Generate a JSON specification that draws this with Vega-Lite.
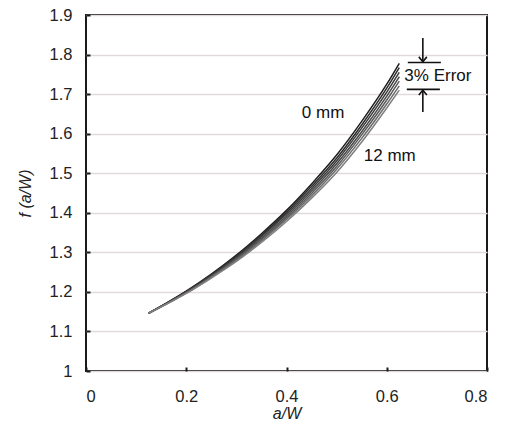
{
  "$schema": "https://vega.github.io/schema/vega-lite/v6.json",
  "width": 401,
  "height": 356,
  "autosize": "none",
  "padding": {"left": 86, "top": 15, "right": 18, "bottom": 59},
  "background": "white",
  "config": {
    "view": {"stroke": "#1a1a1a", "strokeWidth": 2},
    "font": "Liberation Sans",
    "axis": {
      "domain": false,
      "labelFont": "Liberation Sans",
      "labelFontSize": 16.5,
      "labelColor": "#222",
      "labelOverlap": false,
      "titleFont": "Liberation Sans",
      "titleFontSize": 16,
      "titleFontWeight": "normal",
      "titleFontStyle": "italic",
      "titleColor": "#222",
      "tickColor": "#1a1a1a",
      "tickWidth": 2,
      "tickSize": -4,
      "tickCount": 12,
      "gridColor": "#e2d9d9",
      "gridWidth": 1.5
    }
  },
  "datasets": {
    "curves": [
      {"s": "0 mm", "aw": 0.125, "f": 1.146}, {"s": "0 mm", "aw": 0.15, "f": 1.164}, {"s": "0 mm", "aw": 0.2, "f": 1.202}, {"s": "0 mm", "aw": 0.25, "f": 1.245}, {"s": "0 mm", "aw": 0.3, "f": 1.293}, {"s": "0 mm", "aw": 0.35, "f": 1.347}, {"s": "0 mm", "aw": 0.4, "f": 1.406}, {"s": "0 mm", "aw": 0.45, "f": 1.473}, {"s": "0 mm", "aw": 0.5, "f": 1.546}, {"s": "0 mm", "aw": 0.55, "f": 1.631}, {"s": "0 mm", "aw": 0.6, "f": 1.725}, {"s": "0 mm", "aw": 0.625, "f": 1.778},
      {"s": "2 mm", "aw": 0.125, "f": 1.146}, {"s": "2 mm", "aw": 0.15, "f": 1.164}, {"s": "2 mm", "aw": 0.2, "f": 1.201}, {"s": "2 mm", "aw": 0.25, "f": 1.243}, {"s": "2 mm", "aw": 0.3, "f": 1.290}, {"s": "2 mm", "aw": 0.35, "f": 1.343}, {"s": "2 mm", "aw": 0.4, "f": 1.401}, {"s": "2 mm", "aw": 0.45, "f": 1.467}, {"s": "2 mm", "aw": 0.5, "f": 1.538}, {"s": "2 mm", "aw": 0.55, "f": 1.622}, {"s": "2 mm", "aw": 0.6, "f": 1.715}, {"s": "2 mm", "aw": 0.625, "f": 1.767},
      {"s": "4 mm", "aw": 0.125, "f": 1.146}, {"s": "4 mm", "aw": 0.15, "f": 1.163}, {"s": "4 mm", "aw": 0.2, "f": 1.200}, {"s": "4 mm", "aw": 0.25, "f": 1.242}, {"s": "4 mm", "aw": 0.3, "f": 1.288}, {"s": "4 mm", "aw": 0.35, "f": 1.340}, {"s": "4 mm", "aw": 0.4, "f": 1.397}, {"s": "4 mm", "aw": 0.45, "f": 1.461}, {"s": "4 mm", "aw": 0.5, "f": 1.531}, {"s": "4 mm", "aw": 0.55, "f": 1.614}, {"s": "4 mm", "aw": 0.6, "f": 1.705}, {"s": "4 mm", "aw": 0.625, "f": 1.755},
      {"s": "6 mm", "aw": 0.125, "f": 1.146}, {"s": "6 mm", "aw": 0.15, "f": 1.163}, {"s": "6 mm", "aw": 0.2, "f": 1.199}, {"s": "6 mm", "aw": 0.25, "f": 1.240}, {"s": "6 mm", "aw": 0.3, "f": 1.285}, {"s": "6 mm", "aw": 0.35, "f": 1.336}, {"s": "6 mm", "aw": 0.4, "f": 1.392}, {"s": "6 mm", "aw": 0.45, "f": 1.455}, {"s": "6 mm", "aw": 0.5, "f": 1.524}, {"s": "6 mm", "aw": 0.55, "f": 1.605}, {"s": "6 mm", "aw": 0.6, "f": 1.695}, {"s": "6 mm", "aw": 0.625, "f": 1.744},
      {"s": "8 mm", "aw": 0.125, "f": 1.146}, {"s": "8 mm", "aw": 0.15, "f": 1.163}, {"s": "8 mm", "aw": 0.2, "f": 1.198}, {"s": "8 mm", "aw": 0.25, "f": 1.238}, {"s": "8 mm", "aw": 0.3, "f": 1.282}, {"s": "8 mm", "aw": 0.35, "f": 1.332}, {"s": "8 mm", "aw": 0.4, "f": 1.387}, {"s": "8 mm", "aw": 0.45, "f": 1.449}, {"s": "8 mm", "aw": 0.5, "f": 1.517}, {"s": "8 mm", "aw": 0.55, "f": 1.597}, {"s": "8 mm", "aw": 0.6, "f": 1.685}, {"s": "8 mm", "aw": 0.625, "f": 1.733},
      {"s": "10 mm", "aw": 0.125, "f": 1.146}, {"s": "10 mm", "aw": 0.15, "f": 1.162}, {"s": "10 mm", "aw": 0.2, "f": 1.197}, {"s": "10 mm", "aw": 0.25, "f": 1.237}, {"s": "10 mm", "aw": 0.3, "f": 1.280}, {"s": "10 mm", "aw": 0.35, "f": 1.329}, {"s": "10 mm", "aw": 0.4, "f": 1.383}, {"s": "10 mm", "aw": 0.45, "f": 1.443}, {"s": "10 mm", "aw": 0.5, "f": 1.510}, {"s": "10 mm", "aw": 0.55, "f": 1.588}, {"s": "10 mm", "aw": 0.6, "f": 1.675}, {"s": "10 mm", "aw": 0.625, "f": 1.721},
      {"s": "12 mm", "aw": 0.125, "f": 1.146}, {"s": "12 mm", "aw": 0.15, "f": 1.162}, {"s": "12 mm", "aw": 0.2, "f": 1.196}, {"s": "12 mm", "aw": 0.25, "f": 1.235}, {"s": "12 mm", "aw": 0.3, "f": 1.277}, {"s": "12 mm", "aw": 0.35, "f": 1.325}, {"s": "12 mm", "aw": 0.4, "f": 1.378}, {"s": "12 mm", "aw": 0.45, "f": 1.437}, {"s": "12 mm", "aw": 0.5, "f": 1.502}, {"s": "12 mm", "aw": 0.55, "f": 1.579}, {"s": "12 mm", "aw": 0.6, "f": 1.665}, {"s": "12 mm", "aw": 0.625, "f": 1.710}
    ],
    "labels": [
      {"aw": 0.473, "f": 1.652, "t": "0 mm"},
      {"aw": 0.606, "f": 1.543, "t": "12 mm"},
      {"aw": 0.702, "f": 1.746, "t": "3% Error"}
    ],
    "bars": [
      {"x1": 0.642, "x2": 0.708, "y1": 1.780, "y2": 1.780},
      {"x1": 0.640, "x2": 0.706, "y1": 1.712, "y2": 1.712},
      {"x1": 0.672, "x2": 0.672, "y1": 1.842, "y2": 1.782},
      {"x1": 0.672, "x2": 0.672, "y1": 1.710, "y2": 1.655}
    ],
    "heads": [
      {"aw": 0.672, "f": 1.782, "dir": "down"},
      {"aw": 0.672, "f": 1.710, "dir": "up"}
    ]
  },
  "layer": [
    {
      "data": {"name": "curves"},
      "mark": {"type": "line", "strokeWidth": 1.5, "interpolate": "monotone"},
      "encoding": {
        "x": {
          "field": "aw", "type": "quantitative",
          "scale": {"domain": [0, 0.8], "nice": false, "zero": false},
          "axis": {"values": [0, 0.2, 0.4, 0.6, 0.8], "format": "~g", "grid": false, "title": "a/W", "labelPadding": 21, "titlePadding": 1}
        },
        "y": {
          "field": "f", "type": "quantitative",
          "scale": {"domain": [1, 1.9], "nice": false, "zero": false},
          "axis": {"values": [1, 1.1, 1.2, 1.3, 1.4, 1.5, 1.6, 1.7, 1.8, 1.9], "format": "~g", "title": "f (a/W)", "labelPadding": 18, "titlePadding": 16}
        },
        "color": {
          "field": "s", "type": "nominal",
          "scale": {"domain": ["0 mm", "2 mm", "4 mm", "6 mm", "8 mm", "10 mm", "12 mm"], "range": ["#1e1e1e", "#2e2e2e", "#3c3c3c", "#4a4a4a", "#5a5a5a", "#6c6c6c", "#808080"]},
          "legend": null
        },
        "order": {"field": "s", "sort": "descending"}
      }
    },
    {
      "data": {"name": "labels"},
      "mark": {"type": "text", "fontSize": 17, "font": "Liberation Sans", "color": "#111", "align": "center", "baseline": "middle"},
      "encoding": {
        "x": {"field": "aw", "type": "quantitative"},
        "y": {"field": "f", "type": "quantitative"},
        "text": {"field": "t"}
      }
    },
    {
      "data": {"name": "bars"},
      "mark": {"type": "rule", "color": "#111", "strokeWidth": 1.6},
      "encoding": {
        "x": {"field": "x1", "type": "quantitative"},
        "x2": {"field": "x2"},
        "y": {"field": "y1", "type": "quantitative"},
        "y2": {"field": "y2"}
      }
    },
    {
      "data": {"name": "heads"},
      "mark": {"type": "point", "filled": false, "stroke": "#111", "strokeWidth": 1.6, "size": 64, "opacity": 1},
      "encoding": {
        "x": {"field": "aw", "type": "quantitative"},
        "y": {"field": "f", "type": "quantitative"},
        "shape": {
          "field": "dir", "type": "nominal",
          "scale": {"domain": ["down", "up"], "range": ["M-1,-1.2L0,0L1,-1.2", "M-1,1.2L0,0L1,1.2"]},
          "legend": null
        }
      }
    }
  ]
}
